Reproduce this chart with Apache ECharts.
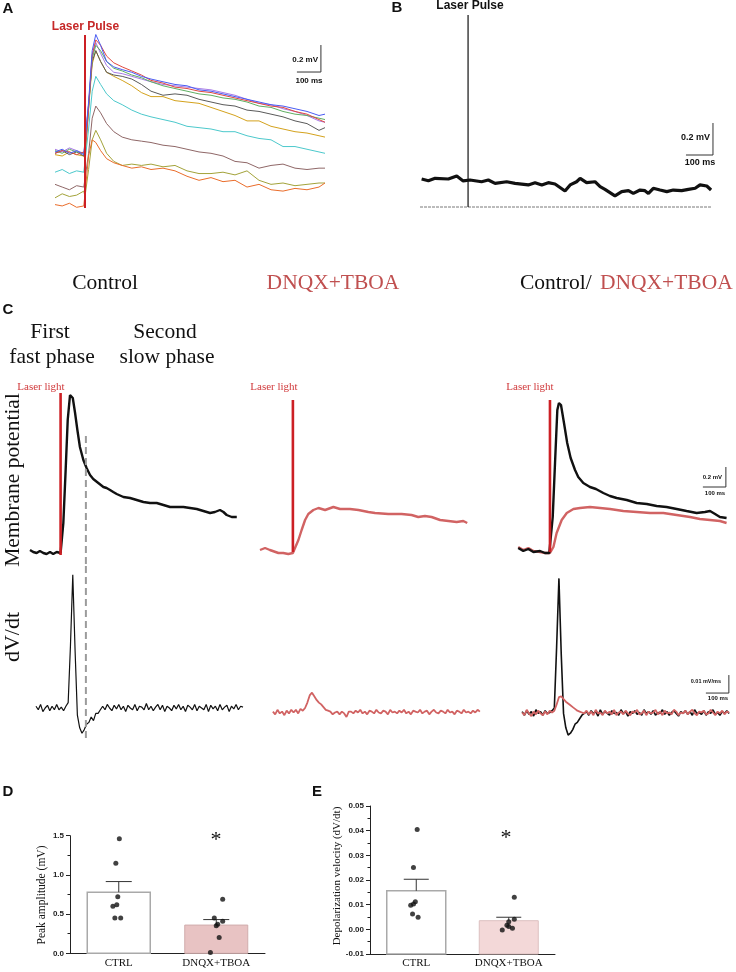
<!DOCTYPE html>
<html><head><meta charset="utf-8">
<script src="https://cdn.jsdelivr.net/npm/echarts@6/dist/echarts.min.js"></script>
<style>html,body{margin:0;padding:0;background:#fff}#c{width:736px;height:972px}</style>
</head><body><div id="c"></div>
<script>
// ---------------- Panel A: evoked potentials (ms, mV) ----------------
const aTime = [0,30,60,90,120,125,140,155,170,190,215,245,280,320,360,400,450,500,550,600,650,700,750,800,850,900,950,1000,1050,1100,1125];
const aBlue   = [0.43,0.45,0.42,0.44,0.41,0.40,0.80,1.18,1.30,1.22,1.10,1.06,1.04,1.02,0.99,0.97,0.95,0.93,0.92,0.89,0.88,0.86,0.84,0.82,0.80,0.78,0.77,0.75,0.73,0.70,0.71];
const aRed    = [0.42,0.44,0.43,0.41,0.43,0.41,0.75,1.15,1.26,1.22,1.14,1.09,1.06,1.03,1.00,0.96,0.94,0.91,0.90,0.88,0.87,0.85,0.83,0.81,0.79,0.77,0.76,0.73,0.71,0.67,0.65];
const aGreen  = [0.44,0.42,0.45,0.43,0.42,0.40,0.76,1.12,1.22,1.18,1.10,1.05,1.03,1.00,0.98,0.95,0.92,0.90,0.88,0.86,0.85,0.83,0.82,0.80,0.77,0.76,0.73,0.71,0.70,0.68,0.67];
const aPurple = [0.45,0.43,0.46,0.44,0.42,0.41,0.78,1.14,1.24,1.16,1.07,1.02,1.01,0.99,0.97,0.95,0.93,0.92,0.91,0.90,0.89,0.87,0.85,0.82,0.79,0.78,0.75,0.73,0.70,0.66,0.65];
const aGray   = [0.42,0.44,0.41,0.43,0.40,0.39,0.78,1.10,1.18,1.10,1.02,1.00,0.99,0.97,0.93,0.88,0.85,0.86,0.85,0.82,0.80,0.78,0.77,0.74,0.73,0.71,0.69,0.66,0.64,0.59,0.61];
const aGold   = [0.41,0.40,0.43,0.41,0.40,0.38,0.75,1.08,1.18,1.10,1.02,0.99,0.96,0.92,0.87,0.84,0.84,0.81,0.80,0.79,0.76,0.73,0.70,0.66,0.66,0.62,0.60,0.58,0.57,0.55,0.54];
const aCyan   = [0.28,0.30,0.27,0.29,0.28,0.28,0.60,0.88,0.99,0.93,0.86,0.81,0.78,0.74,0.71,0.69,0.67,0.65,0.62,0.61,0.60,0.58,0.58,0.55,0.53,0.52,0.47,0.47,0.45,0.43,0.42];
const aBrown  = [0.19,0.17,0.15,0.18,0.17,0.16,0.42,0.68,0.77,0.72,0.64,0.58,0.54,0.52,0.51,0.50,0.48,0.47,0.45,0.43,0.42,0.40,0.36,0.35,0.31,0.33,0.34,0.31,0.30,0.31,0.31];
const aOlive  = [0.09,0.12,0.10,0.11,0.14,0.10,0.30,0.52,0.59,0.52,0.42,0.36,0.33,0.34,0.33,0.34,0.32,0.33,0.29,0.27,0.27,0.28,0.26,0.29,0.22,0.19,0.20,0.18,0.19,0.20,0.20];
const aOrange = [0.04,0.03,0.05,0.02,0.03,0.03,0.40,0.52,0.50,0.44,0.38,0.35,0.33,0.31,0.32,0.30,0.31,0.29,0.25,0.22,0.24,0.21,0.22,0.17,0.19,0.15,0.14,0.16,0.15,0.17,0.20];
const aLaserT = 125;

// ---------------- Panel B (ms, mV) ----------------
const bTime = [6,31,56,105,136,160,185,228,253,278,321,352,401,426,451,475,500,537,556,580,593,617,648,667,685,722,747,772,790,815,833,846,864,889,914,938,969,994,1019,1037,1062,1078];
const bVolt = [0.175,0.164,0.179,0.175,0.194,0.163,0.169,0.158,0.169,0.148,0.158,0.148,0.138,0.152,0.138,0.152,0.144,0.100,0.138,0.158,0.179,0.152,0.158,0.127,0.110,0.069,0.096,0.102,0.085,0.106,0.102,0.085,0.117,0.106,0.096,0.106,0.102,0.110,0.117,0.138,0.131,0.106];
const bLaserT = 178;

// ---------------- Panel C: membrane potential (ms, mV) ----------------
const ctrlVmT = [0,14,29,43,58,72,87,101,116,123,133,145,155,164,174,186,196,206,217,232,246,261,275,297,319,333,348,362,377,406,435,464,493,522,551,580,609,638,667,696,725,754,783,804,826,841,855,877,899];
const ctrlVm  = [0.03,0.01,0.00,0.02,0.00,-0.01,0.01,-0.01,0.01,0.00,0.00,0.30,0.83,1.33,1.58,1.55,1.40,1.23,1.06,0.93,0.85,0.78,0.74,0.70,0.66,0.65,0.63,0.61,0.59,0.56,0.55,0.53,0.51,0.50,0.50,0.48,0.46,0.46,0.46,0.45,0.44,0.42,0.40,0.41,0.43,0.41,0.38,0.36,0.36];
const dnqxVmT = [0,22,43,80,101,123,143,149,167,181,196,210,232,254,283,319,348,391,428,471,500,558,616,659,688,717,746,783,819,855,884,901];
const dnqxVm  = [0.03,0.05,0.03,0.00,0.00,-0.01,0.00,0.01,0.13,0.23,0.33,0.39,0.43,0.45,0.43,0.46,0.44,0.44,0.43,0.41,0.40,0.39,0.39,0.38,0.36,0.37,0.36,0.33,0.32,0.31,0.32,0.30];
const overBlkT = [1,23,45,67,96,117,136,139,151,161,171,178,187,200,214,229,248,262,284,313,339,371,400,429,473,516,560,603,646,690,733,777,813,835,857,878,907];
const overBlk  = [0.05,0.02,0.04,0.01,0.02,0.00,0.00,0.00,0.36,0.90,1.43,1.50,1.48,1.30,1.10,0.95,0.83,0.76,0.70,0.66,0.64,0.60,0.57,0.55,0.53,0.50,0.49,0.47,0.46,0.44,0.42,0.40,0.41,0.42,0.39,0.36,0.35];
const overRedT = [1,23,45,67,96,117,139,154,168,190,212,241,270,313,357,400,458,516,574,632,690,748,791,835,878,907];
const overRed  = [0.06,0.03,0.05,0.02,0.01,0.00,0.00,0.06,0.20,0.33,0.40,0.44,0.45,0.46,0.45,0.44,0.42,0.41,0.40,0.40,0.38,0.36,0.34,0.33,0.32,0.30];
const cLaserT = [133, 143, 139];           // laser onset per column (ms)
const phaseBoundaryT = 243;                // dashed line (ms)

// ---------------- Panel C: dV/dt (1e-3 mV/ms), sampled every 10 ms ----------------
const DVDT_STEP = 10;
const ctrlDvdtT0 = 26;
const ctrlDvdt = [1,-1,2,-2,0,1.5,-1.5,1,-1,2,-1,0.5,-1.5,1,
  3,35,74,32,-4,-11,-14,-12,-9,-8,-5,-7,-3,-3,-1,
  1,-1,2,0,-1.5,1.5,-0.5,2,-1,1,-2,1.5,0,-1,2,-1.5,1,0.5,-1,2.5,-1,1,-1.5,0.5,2,-1,1.5,-2,1,0,-1.5,1.5,-0.5,2,-1,1,-2,1.5,0.5,-1,2,-1.5,1,0,-1,2,-2,1.5,-0.5,1,-1.5,2,-1,0.5,1.5,-2,1,-0.5,2,-1,1,0.5];
const dnqxDvdtT0 = 56;
const dnqxDvdt = [-2,-3.5,-1,-3,-2,-4,-1.5,-3,-1,-2.5,-1,-3,-0.5,-1.5,
  0,3,7,8.5,6.5,4.5,3,2,0.5,-1,-1.5,-2,-3.5,-2.5,-2,-3.5,-2,-3,-5,-2,
  -2,-3,-1.5,-2.5,-1,-3,-2,-3.5,-1.5,-2,-3,-1,-2.5,-3,-1.5,-2,-3.5,-1,-2.5,-2,-3,-1.5,-2.5,-1,-3,-2,-3.5,-1.5,-2,-2.5,-1,-3,-2,-1.5,-3.5,-2,-1,-2.5,-3,-1.5,-2,-3,-1,-2.5,-2,-3.5,-1.5,-2,-3,-1,-2.5,-2,-3,-1.5,-2.5,-1,-2];
const overDvdtT0 = 18;
const overBlkDvdt = [-2,-4,-1.5,-3.5,-2,-4.5,-1,-3,-2,-4,-1.5,-3,-2.5,-1.5,
  0,34,72,30,-3,-11,-15,-14,-12,-9,-8,-6,-4,-3,
  -2,-4,-1.5,-3,-2,-4.5,-1,-3.5,-2,-3,-4,-1.5,-3,-2.5,-4,-1,-3,-2,-4.5,-2,-3,-1.5,-3.5,-2.5,-4,-1,-3,-2,-3.5,-1.5,-4,-2.5,-3,-1,-3.5,-2,-4,-2.5,-1.5,-3,-4.5,-2,-3,-1.5,-3.5,-2,-4,-1,-3,-2.5,-3.5,-1.5,-4,-2,-3,-1,-3.5,-2.5,-4,-2,-3,-1.5,-3];
const overRedDvdt = [-2.5,-4,-1,-3,-4.5,-2,-3.5,-1.5,-3,-4,-2,-3.5,-1.5,-2.5,
  -1.5,2,6,6.5,5,3.5,2.5,1.5,0.5,-0.5,-1.5,-2,-2.5,-3,
  -1.5,-3.5,-2,-4,-1,-3,-2.5,-4,-1.5,-3,-2,-3.5,-1,-4,-2.5,-2,-3.5,-1.5,-3,-4,-2,-2.5,-1,-3.5,-3,-1.5,-4,-2,-3,-2.5,-1,-3.5,-2,-4,-1.5,-3,-2.5,-3.5,-1,-2,-4,-2.5,-3,-1.5,-3.5,-2,-1,-3,-4,-2,-2.5,-1.5,-3.5,-3,-1,-2.5,-4,-2,-3,-1.5,-3.5,-2,-2.5];

// ---------------- Panels D & E ----------------
const groups = ['CTRL', 'DNQX+TBOA'];
const dMean = [0.78, 0.36];
const dSemTop = [0.915, 0.43];
const dCtrlX = [0.006,-0.03,-0.01,-0.06,-0.02,-0.04,0.02];
const dCtrlV = [1.46,1.15,0.72,0.60,0.62,0.45,0.45];
const dDnqxX = [1.066,0.98,1.0,1.015,1.066,1.03,0.94];
const dDnqxV = [0.69,0.45,0.35,0.37,0.41,0.20,0.01];
const eMean = [0.0156, 0.0035];
const eSemTop = [0.0203, 0.0049];
const eCtrlX = [0.01,-0.03,-0.01,-0.06,-0.03,-0.04,0.02];
const eCtrlV = [0.0405,0.0251,0.0112,0.0098,0.0103,0.0062,0.0049];
const eDnqxX = [1.06,1.0,1.06,0.98,1.0,1.04,0.93];
const eDnqxV = [0.0130,0.0031,0.0041,0.0017,0.0011,0.0004,-0.0003];

// ---------------- helpers ----------------
const SERIF = "'Liberation Serif','Times New Roman',serif";
const SANS = "'Liberation Sans',Arial,sans-serif";
const RED_TRACE = '#d16363', LASER = '#cc1f24';
const pairs = (ts, vs) => vs.map((v, i) => [ts[i], v]);
const sampled = (t0, vs) => vs.map((v, i) => [t0 + i * DVDT_STEP, v]);
function line(gi, data, color, width, extra) {
  return Object.assign({ type: 'line', xAxisIndex: gi, yAxisIndex: gi, data, symbol: 'none', showSymbol: false,
    silent: true, animation: false, lineStyle: { color, width }, z: 2 }, extra || {});
}
function vline(gi, t, lo, hi, color, width, type) {
  return line(gi, [[t, lo], [t, hi]], color, width, { lineStyle: { color, width, type: type || 'solid' }, z: 5 });
}
function scaleBar(gi, tEnd, vBase, dt, dv) {
  return line(gi, [[tEnd - dt, vBase], [tEnd, vBase], [tEnd, vBase + dv]], '#333', 1, { z: 6 });
}
function hiddenX(gi, min, max) { return { gridIndex: gi, type: 'value', min, max, show: false }; }
function hiddenY(gi, min, max) { return { gridIndex: gi, type: 'value', min, max, show: false }; }
function T(x, y, text, o) {
  o = o || {};
  const al = o.align || 'center';
  return { type: 'text', x, y, rotation: o.rot || 0, silent: true, z: 100,
    style: { text, font: o.font, fill: o.fill || '#111', align: al, textAlign: al, verticalAlign: 'middle', textVerticalAlign: 'middle' } };
}
function errRender(cap) {
  return function (params, api) {
    const p0 = api.coord([api.value(0), api.value(1)]);
    const p1 = api.coord([api.value(0), api.value(2)]);
    const st = { stroke: '#333', lineWidth: 1 };
    return { type: 'group', children: [
      { type: 'line', shape: { x1: p0[0], y1: p0[1], x2: p1[0], y2: p1[1] }, style: st },
      { type: 'line', shape: { x1: p1[0] - cap / 2, y1: p1[1], x2: p1[0] + cap / 2, y2: p1[1] }, style: st }
    ] };
  };
}
// bars drawn from the axis floor (base) up to the mean value
function barRender(base, barW, styles) {
  return function (params, api) {
    const i = api.value(0);
    const p0 = api.coord([i, base]);
    const p1 = api.coord([i, api.value(1)]);
    return { type: 'rect', shape: { x: p0[0] - barW / 2, y: p1[1], width: barW, height: p0[1] - p1[1] },
      style: styles[i] };
  };
}
function valueYAxis(gi, min, max, interval, digits) {
  return { gridIndex: gi, type: 'value', min, max, interval,
    axisLine: { show: true, onZero: false, lineStyle: { color: '#222', width: 1 } },
    axisTick: { show: true, length: 4, lineStyle: { color: '#222' } },
    minorTick: { show: true, splitNumber: 2, length: 2.5, lineStyle: { color: '#222' } },
    splitLine: { show: false }, minorSplitLine: { show: false },
    axisLabel: { fontFamily: SANS, fontWeight: 'bold', fontSize: 8, color: '#222', margin: 6,
      formatter: v => (Math.abs(v) < 1e-9 ? 0 : v).toFixed(digits) } };
}
function catXAxis(gi) {
  return { gridIndex: gi, type: 'category', data: groups,
    axisLine: { onZero: false, lineStyle: { color: '#222', width: 1 } },
    axisTick: { alignWithLabel: true, length: 3, lineStyle: { color: '#222' } },
    axisLabel: { fontFamily: SERIF, fontSize: 11, color: '#111', margin: 4 } };
}

// ---------------- grids ----------------
const grid = [
  { left: 55, top: 34.5, width: 270, height: 175.5 },   // 0 A
  { left: 420, top: 15, width: 300, height: 195.2 },    // 1 B
  { left: 30, top: 389, width: 230, height: 175 },      // 2 C Vm ctrl
  { left: 260, top: 389, width: 230, height: 175 },     // 3 C Vm dnqx
  { left: 518, top: 389, width: 218, height: 175 },     // 4 C Vm overlay
  { left: 30, top: 564, width: 230, height: 180 },      // 5 C dvdt ctrl
  { left: 260, top: 564, width: 230, height: 180 },     // 6 C dvdt dnqx
  { left: 518, top: 564, width: 218, height: 180 },     // 7 C dvdt overlay
  { left: 70, top: 835.7, width: 195, height: 117.6 },  // 8 D
  { left: 370, top: 806, width: 185, height: 148 }      // 9 E
];
const xAxis = [
  hiddenX(0, 0, 1125), hiddenX(1, 0, 1111),
  hiddenX(2, 0, 1000), hiddenX(3, 0, 1000), hiddenX(4, 0, 948),
  hiddenX(5, 0, 1000), hiddenX(6, 0, 1000), hiddenX(7, 0, 948),
  catXAxis(8), hiddenX(8, -0.5, 1.5),
  catXAxis(9), hiddenX(9, -0.5, 1.5)
];
const yAxis = [
  hiddenY(0, 0, 1.3), hiddenY(1, -0.02, 1.2),
  hiddenY(2, -0.11, 1.64), hiddenY(3, -0.11, 1.64), hiddenY(4, -0.11, 1.64),
  hiddenY(5, -20, 80), hiddenY(6, -20, 80), hiddenY(7, -20, 80),
  valueYAxis(8, 0, 1.5, 0.5, 1),
  valueYAxis(9, -0.01, 0.05, 0.01, 2)
];

// ---------------- series ----------------
const series = [];
const aTraces = [aGold, aGray, aPurple, aGreen, aRed, aBlue, aCyan, aBrown, aOlive, aOrange];
const aColors = ['#d4a21c', '#5a5a5a', '#a77ae6', '#5fae62', '#e0483f', '#4a5cf2', '#4cc9cc', '#8f6767', '#a3a33a', '#ea6d2b'];
aTraces.forEach((tr, i) => series.push(line(0, pairs(aTime, tr), aColors[i], 1)));
series.push(vline(0, aLaserT, 0.015, 1.296, LASER, 2));
series.push(scaleBar(0, 1108, 1.022, 100, 0.2));

series.push(line(1, pairs(bTime, bVolt), '#111', 3.2));
series.push(line(1, [[0, 0], [1078, 0]], '#555', 1, { lineStyle: { color: '#555', width: 0.8, type: [3, 1] } }));
series.push(vline(1, bLaserT, 0, 1.2, '#111', 1.2));
series.push(scaleBar(1, 1085, 0.325, 100, 0.2));

// C membrane potential
series.push(line(2, pairs(ctrlVmT, ctrlVm), '#111', 2.4));
series.push(vline(2, cLaserT[0], -0.02, 1.60, LASER, 2.6));
series.push(vline(2, phaseBoundaryT, -0.11, 1.21, '#9b9b9b', 2, [7, 4]));
series.push(line(3, pairs(dnqxVmT, dnqxVm), RED_TRACE, 2.4));
series.push(vline(3, cLaserT[1], 0.01, 1.53, LASER, 2.6));
series.push(line(4, pairs(overRedT, overRed), RED_TRACE, 2.4));
series.push(line(4, pairs(overBlkT, overBlk), '#111', 2.4));
series.push(vline(4, cLaserT[2], 0.01, 1.53, LASER, 2.6));
series.push(scaleBar(4, 904, 0.66, 100, 0.2));

// C dV/dt
series.push(line(5, sampled(ctrlDvdtT0, ctrlDvdt), '#111', 1.2));
series.push(vline(5, phaseBoundaryT, -16.7, 80, '#9b9b9b', 2, [7, 4]));
series.push(line(6, sampled(dnqxDvdtT0, dnqxDvdt), RED_TRACE, 1.8));
series.push(line(7, sampled(overDvdtT0, overBlkDvdt), '#111', 1.6));
series.push(line(7, sampled(overDvdtT0, overRedDvdt), RED_TRACE, 1.8));
series.push(scaleBar(7, 917, 8.3, 100, 10));

// D
const dBarStyles = [ { fill: '#ffffff', stroke: '#a9a9a9', lineWidth: 1.5 }, { fill: '#e8c3c3', stroke: '#d0acac', lineWidth: 1 } ];
series.push({ type: 'custom', xAxisIndex: 8, yAxisIndex: 8, z: 2, silent: true, animation: false,
  encode: { x: 0, y: 1 }, data: dMean.map((m, i) => [i, m]), renderItem: barRender(0, 63, dBarStyles) });
series.push({ type: 'custom', xAxisIndex: 8, yAxisIndex: 8, z: 3, silent: true, animation: false,
  encode: { x: 0, y: [1, 2] }, data: dMean.map((m, i) => [i, m, dSemTop[i]]), renderItem: errRender(26) });
series.push({ type: 'scatter', xAxisIndex: 9, yAxisIndex: 8, symbolSize: 5, z: 4, silent: true, animation: false,
  itemStyle: { color: '#111' }, data: pairs(dCtrlX, dCtrlV).concat(pairs(dDnqxX, dDnqxV)) });

// E
const eBarBase = -0.01;
const eBarStyles = [ { fill: '#ffffff', stroke: '#a9a9a9', lineWidth: 1.5 }, { fill: '#f3d8d8', stroke: '#dcc0c0', lineWidth: 1 } ];
series.push({ type: 'custom', xAxisIndex: 10, yAxisIndex: 9, z: 2, silent: true, animation: false,
  encode: { x: 0, y: 1 }, data: eMean.map((m, i) => [i, m]), renderItem: barRender(eBarBase, 59, eBarStyles) });
series.push({ type: 'custom', xAxisIndex: 10, yAxisIndex: 9, z: 3, silent: true, animation: false,
  encode: { x: 0, y: [1, 2] }, data: eMean.map((m, i) => [i, m, eSemTop[i]]), renderItem: errRender(25) });
series.push({ type: 'scatter', xAxisIndex: 11, yAxisIndex: 9, symbolSize: 5, z: 4, silent: true, animation: false,
  itemStyle: { color: '#111' }, data: pairs(eCtrlX, eCtrlV).concat(pairs(eDnqxX, eDnqxV)) });

// ---------------- text ----------------
const fL = `bold 15px ${SANS}`;
const fT = `21.5px ${SERIF}`;
const graphic = [
  T(8, 9, 'A', { font: fL }), T(397, 8, 'B', { font: fL }), T(8, 310, 'C', { font: fL }),
  T(8, 792, 'D', { font: fL }), T(317, 792, 'E', { font: fL }),
  T(85.5, 27, 'Laser Pulse', { font: `bold 12px ${SANS}`, fill: '#c62828' }),
  T(318, 60, '0.2 mV', { font: `bold 8px ${SANS}`, align: 'right' }),
  T(309, 81, '100 ms', { font: `bold 8px ${SANS}` }),
  T(470, 6, 'Laser Pulse', { font: `bold 12px ${SANS}` }),
  T(710, 138, '0.2 mV', { font: `bold 9px ${SANS}`, align: 'right' }),
  T(700, 163, '100 ms', { font: `bold 9px ${SANS}` }),
  T(105, 283, 'Control', { font: fT }),
  T(333, 283, 'DNQX+TBOA', { font: fT, fill: '#c05050' }),
  T(520, 283, 'Control/', { font: fT, align: 'left' }),
  T(600, 283, 'DNQX+TBOA', { font: fT, fill: '#c05050', align: 'left' }),
  T(50, 332, 'First', { font: fT }), T(52, 357, 'fast phase', { font: fT }),
  T(165, 332, 'Second', { font: fT }), T(167, 357, 'slow phase', { font: fT }),
  T(41, 387, 'Laser light', { font: `11px ${SERIF}`, fill: '#d0383a' }),
  T(274, 387, 'Laser light', { font: `11px ${SERIF}`, fill: '#d0383a' }),
  T(530, 387, 'Laser light', { font: `11px ${SERIF}`, fill: '#d0383a' }),
  T(13, 480, 'Membrane potential', { font: fT, rot: Math.PI / 2 }),
  T(13, 637, 'dV/dt', { font: `22px ${SERIF}`, rot: Math.PI / 2 }),
  T(722, 477, '0.2 mV', { font: `bold 6px ${SANS}`, align: 'right' }),
  T(715, 493, '100 ms', { font: `bold 6px ${SANS}` }),
  T(721, 681, '0.01 mV/ms', { font: `bold 5.5px ${SANS}`, align: 'right' }),
  T(718, 698, '100 ms', { font: `bold 6px ${SANS}` }),
  T(42, 895, 'Peak amplitude (mV)', { font: `11.5px ${SERIF}`, rot: Math.PI / 2 }),
  T(337, 876, 'Depolarization velocity (dV/dt)', { font: `11px ${SERIF}`, rot: Math.PI / 2 }),
  T(216, 840, '*', { font: `22px ${SERIF}` }),
  T(506, 838, '*', { font: `22px ${SERIF}` })
];

const chart = echarts.init(document.getElementById('c'), null, { renderer: 'canvas' });
chart.setOption({ animation: false, backgroundColor: '#ffffff', grid, xAxis, yAxis, series, graphic });
</script></body></html>
